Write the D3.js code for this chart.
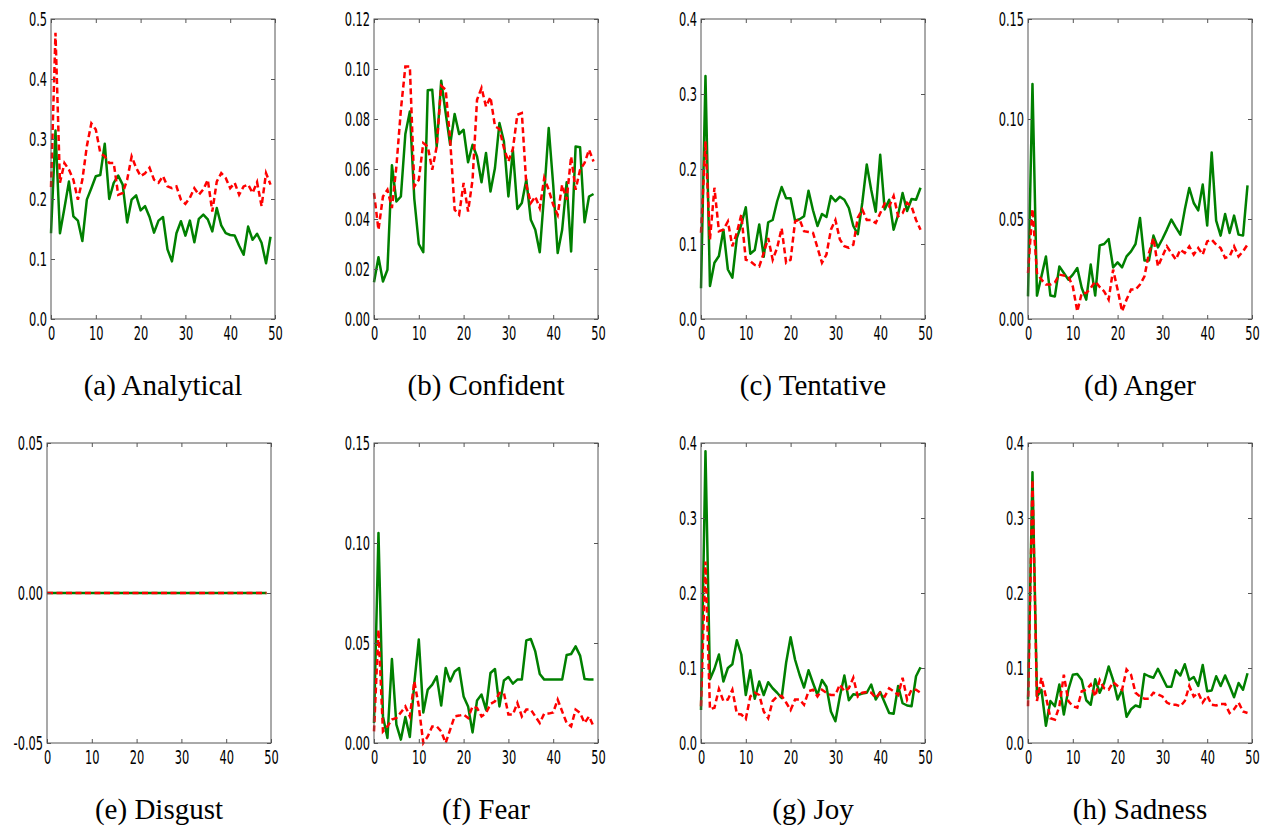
<!DOCTYPE html>
<html>
<head>
<meta charset="utf-8">
<script src="https://cdn.jsdelivr.net/npm/d3@7"></script>
<style>
  body { margin: 0; background: #fff; }
  .tick text { font-family: "DejaVu Sans", sans-serif; font-size: 20px; fill: #000; }
  .caption { font-family: "Liberation Serif", "Times New Roman", serif; font-size: 29px; fill: #000; }
</style>
</head>
<body>
<div id="chart"></div>
<script>
// x runs 0..49 for every panel
const xTicks = [0, 10, 20, 30, 40, 50];

const analyticalGreen = [0.143,0.314,0.143,0.185,0.229,0.171,0.164,0.130,0.199,0.218,0.238,0.240,0.292,0.200,0.227,0.239,0.224,0.161,0.199,0.206,0.181,0.188,0.170,0.144,0.164,0.170,0.116,0.096,0.143,0.163,0.139,0.164,0.128,0.167,0.174,0.166,0.146,0.185,0.156,0.143,0.140,0.139,0.122,0.107,0.154,0.132,0.142,0.127,0.093,0.137];
const analyticalRed = [0.220,0.477,0.227,0.260,0.249,0.232,0.199,0.232,0.288,0.326,0.316,0.277,0.271,0.260,0.260,0.207,0.210,0.232,0.271,0.252,0.238,0.243,0.252,0.232,0.227,0.238,0.221,0.218,0.221,0.199,0.192,0.202,0.218,0.207,0.216,0.232,0.179,0.229,0.243,0.235,0.218,0.227,0.207,0.221,0.224,0.210,0.228,0.188,0.243,0.224];

const confidentGreen = [0.0147,0.0247,0.0150,0.0197,0.0615,0.0470,0.0490,0.0740,0.0830,0.0480,0.0300,0.0267,0.0915,0.0917,0.0690,0.0953,0.0824,0.0697,0.0820,0.0740,0.0757,0.0627,0.0697,0.0650,0.0547,0.0664,0.0510,0.0604,0.0784,0.0710,0.0490,0.0675,0.0440,0.0464,0.0557,0.0397,0.0357,0.0267,0.0504,0.0764,0.0537,0.0264,0.0357,0.0547,0.0270,0.0690,0.0687,0.0387,0.0490,0.0500];
const confidentRed = [0.0504,0.0357,0.0490,0.0517,0.0444,0.0610,0.0837,0.1010,0.1010,0.0530,0.0557,0.0704,0.0690,0.0597,0.0690,0.0933,0.0917,0.0717,0.0437,0.0417,0.0544,0.0430,0.0557,0.0877,0.0924,0.0850,0.0888,0.0771,0.0760,0.0684,0.0630,0.0680,0.0817,0.0824,0.0537,0.0464,0.0490,0.0444,0.0564,0.0517,0.0457,0.0417,0.0537,0.0477,0.0650,0.0517,0.0597,0.0624,0.0677,0.0630];

const tentativeGreen = [0.041,0.324,0.044,0.075,0.084,0.119,0.066,0.055,0.108,0.126,0.149,0.087,0.092,0.126,0.083,0.129,0.132,0.157,0.176,0.161,0.161,0.131,0.133,0.137,0.171,0.145,0.124,0.140,0.136,0.164,0.157,0.163,0.159,0.148,0.124,0.113,0.155,0.206,0.172,0.143,0.219,0.146,0.159,0.119,0.139,0.168,0.144,0.160,0.159,0.175];
const tentativeRed = [0.115,0.237,0.106,0.175,0.117,0.119,0.130,0.097,0.115,0.139,0.079,0.077,0.072,0.070,0.088,0.108,0.079,0.095,0.121,0.075,0.079,0.130,0.133,0.117,0.116,0.115,0.095,0.075,0.086,0.119,0.132,0.106,0.097,0.095,0.099,0.135,0.146,0.132,0.132,0.128,0.141,0.154,0.150,0.164,0.137,0.141,0.155,0.150,0.132,0.119];

const angerGreen = [0.0113,0.1175,0.0117,0.0213,0.0313,0.0117,0.0113,0.0263,0.0230,0.0197,0.0222,0.0255,0.0155,0.0097,0.0272,0.0117,0.0368,0.0375,0.0400,0.0258,0.0283,0.0258,0.0313,0.0338,0.0375,0.0505,0.0292,0.0292,0.0417,0.0358,0.0400,0.0447,0.0497,0.0458,0.0422,0.0547,0.0655,0.0580,0.0543,0.0672,0.0467,0.0833,0.0492,0.0417,0.0525,0.0430,0.0517,0.0422,0.0417,0.0668];
const angerRed = [0.0230,0.0550,0.0230,0.0197,0.0172,0.0172,0.0183,0.0222,0.0217,0.0213,0.0163,0.0038,0.0130,0.0130,0.0155,0.0188,0.0160,0.0138,0.0097,0.0247,0.0147,0.0038,0.0097,0.0147,0.0147,0.0172,0.0213,0.0330,0.0405,0.0263,0.0313,0.0363,0.0330,0.0297,0.0347,0.0330,0.0363,0.0322,0.0355,0.0322,0.0388,0.0397,0.0372,0.0355,0.0305,0.0313,0.0363,0.0313,0.0338,0.0372];

const disgustGreen = [0,0,0,0,0,0,0,0,0,0,0,0,0,0,0,0,0,0,0,0,0,0,0,0,0,0,0,0,0,0,0,0,0,0,0,0,0,0,0,0,0,0,0,0,0,0,0,0,0,0];
const disgustRed = [0,0,0,0,0,0,0,0,0,0,0,0,0,0,0,0,0,0,0,0,0,0,0,0,0,0,0,0,0,0,0,0,0,0,0,0,0,0,0,0,0,0,0,0,0,0,0,0,0,0];

const fearGreen = [0.0100,0.1050,0.0133,0.0025,0.0420,0.0092,0.0017,0.0130,0.0030,0.0300,0.0517,0.0153,0.0267,0.0292,0.0333,0.0187,0.0375,0.0308,0.0358,0.0375,0.0233,0.0183,0.0053,0.0213,0.0242,0.0167,0.0350,0.0370,0.0183,0.0313,0.0330,0.0297,0.0317,0.0317,0.0513,0.0520,0.0458,0.0345,0.0317,0.0317,0.0317,0.0317,0.0317,0.0440,0.0445,0.0483,0.0437,0.0320,0.0317,0.0317];
const fearRed = [0.0058,0.0567,0.0058,0.0083,0.0117,0.0125,0.0153,0.0183,0.0133,0.0308,0.0183,0.0000,0.0033,0.0083,0.0083,0.0058,0.0000,0.0067,0.0133,0.0137,0.0142,0.0125,0.0183,0.0175,0.0133,0.0150,0.0195,0.0208,0.0250,0.0250,0.0142,0.0142,0.0200,0.0133,0.0167,0.0167,0.0133,0.0100,0.0147,0.0147,0.0153,0.0217,0.0158,0.0100,0.0083,0.0167,0.0150,0.0100,0.0133,0.0083];

const joyGreen = [0.044,0.389,0.085,0.099,0.118,0.082,0.100,0.105,0.137,0.118,0.064,0.097,0.059,0.082,0.064,0.081,0.073,0.067,0.060,0.107,0.141,0.111,0.091,0.074,0.097,0.080,0.064,0.084,0.075,0.042,0.029,0.062,0.090,0.057,0.065,0.064,0.066,0.067,0.078,0.058,0.068,0.054,0.040,0.039,0.076,0.053,0.050,0.049,0.089,0.101];
const joyRed = [0.049,0.242,0.045,0.047,0.072,0.056,0.058,0.071,0.039,0.038,0.032,0.062,0.067,0.064,0.042,0.033,0.056,0.062,0.063,0.054,0.044,0.058,0.058,0.051,0.069,0.071,0.062,0.071,0.067,0.064,0.064,0.078,0.069,0.073,0.087,0.062,0.067,0.068,0.067,0.060,0.067,0.062,0.073,0.069,0.064,0.087,0.058,0.071,0.071,0.067];

const sadnessGreen = [0.058,0.361,0.062,0.071,0.023,0.056,0.049,0.078,0.038,0.071,0.091,0.092,0.084,0.057,0.051,0.085,0.067,0.080,0.102,0.084,0.058,0.071,0.035,0.045,0.050,0.048,0.092,0.089,0.087,0.099,0.087,0.075,0.075,0.097,0.090,0.105,0.084,0.088,0.076,0.104,0.069,0.070,0.089,0.076,0.090,0.076,0.061,0.080,0.071,0.093];
const sadnessRed = [0.049,0.351,0.056,0.087,0.062,0.033,0.031,0.049,0.091,0.056,0.049,0.047,0.069,0.071,0.078,0.062,0.084,0.073,0.071,0.081,0.076,0.071,0.098,0.091,0.067,0.062,0.059,0.059,0.067,0.065,0.062,0.054,0.051,0.051,0.049,0.056,0.076,0.062,0.067,0.054,0.063,0.051,0.050,0.052,0.052,0.040,0.045,0.054,0.042,0.040];

const captions = ["(a) Analytical", "(b) Confident", "(c) Tentative", "(d) Anger",
                  "(e) Disgust", "(f) Fear", "(g) Joy", "(h) Sadness"];
const yTickSets = [
  [0, 0.1, 0.2, 0.3, 0.4, 0.5],
  [0, 0.02, 0.04, 0.06, 0.08, 0.10, 0.12],
  [0, 0.1, 0.2, 0.3, 0.4],
  [0, 0.05, 0.10, 0.15],
  [-0.05, 0, 0.05],
  [0, 0.05, 0.10, 0.15],
  [0, 0.1, 0.2, 0.3, 0.4],
  [0, 0.1, 0.2, 0.3, 0.4]
];
const yFormats = [".1f", ".2f", ".1f", ".2f", ".2f", ".2f", ".1f", ".1f"];
const greens = [analyticalGreen, confidentGreen, tentativeGreen, angerGreen, disgustGreen, fearGreen, joyGreen, sadnessGreen];
const reds = [analyticalRed, confidentRed, tentativeRed, angerRed, disgustRed, fearRed, joyRed, sadnessRed];

// layout
const W = 1267, H = 827;
const plotW = 224, plotH = 300;
const lefts = [51, 374, 701, 1028, 47, 374, 701, 1028];
const tops = [19, 19, 19, 19, 443, 443, 443, 443];
const textSx = 0.57; // tick labels are horizontally squeezed in the original

const svg = d3.select("#chart").append("svg")
  .attr("width", W)
  .attr("height", H)
  .style("background", "#fff");

captions.forEach((cap, p) => {
  const yt = yTickSets[p];
  const x = d3.scaleLinear().domain([0, 50]).range([0, plotW]);
  const y = d3.scaleLinear().domain([yt[0], yt[yt.length - 1]]).range([plotH, 0]);
  const fmt = d3.format(yFormats[p]);

  const g = svg.append("g").attr("transform", `translate(${lefts[p]},${tops[p]})`);

  const line = d3.line()
    .x((d, i) => x(i))
    .y(d => y(d));

  g.append("path")
    .datum(greens[p])
    .attr("d", line)
    .style("fill", "none")
    .style("stroke", "#008000")
    .style("stroke-width", 2.5)
    .style("stroke-linejoin", "round");

  g.append("path")
    .datum(reds[p])
    .attr("d", line)
    .style("fill", "none")
    .style("stroke", "#ff0000")
    .style("stroke-width", 2.5)
    .style("stroke-dasharray", "6,3.5");

  // axes: inward ticks on all four sides
  const xAxis = g.append("g")
    .attr("class", "x axis")
    .attr("transform", `translate(0,${plotH})`)
    .call(d3.axisBottom(x).tickValues(xTicks).tickSize(-4).tickPadding(7).tickFormat(d3.format("d")));

  const yAxis = g.append("g")
    .attr("class", "y axis")
    .call(d3.axisLeft(y).tickValues(yt).tickSize(-4).tickPadding(4)
      .tickFormat(d => fmt(d).replace("\u2212", "-")));

  g.append("g")
    .attr("transform", "translate(0,0)")
    .call(d3.axisTop(x).tickValues(xTicks).tickSize(-4).tickFormat(""));
  g.append("g")
    .attr("transform", `translate(${plotW},0)`)
    .call(d3.axisRight(y).tickValues(yt).tickSize(-4).tickFormat(""));

  g.selectAll(".domain").remove();
  g.selectAll(".tick line").style("stroke", "#555");

  xAxis.selectAll("text").attr("transform", `scale(${textSx},1)`);
  yAxis.selectAll("text")
    .attr("x", -4 / textSx)
    .attr("transform", `scale(${textSx},1)`);

  g.append("rect")
    .attr("width", plotW)
    .attr("height", plotH)
    .style("fill", "none")
    .style("stroke", "#555")
    .style("stroke-width", 1);

  svg.append("text")
    .attr("class", "caption")
    .attr("x", lefts[p] + plotW / 2)
    .attr("y", tops[p] + 376)
    .attr("text-anchor", "middle")
    .text(cap);
});
</script>
</body>
</html>
